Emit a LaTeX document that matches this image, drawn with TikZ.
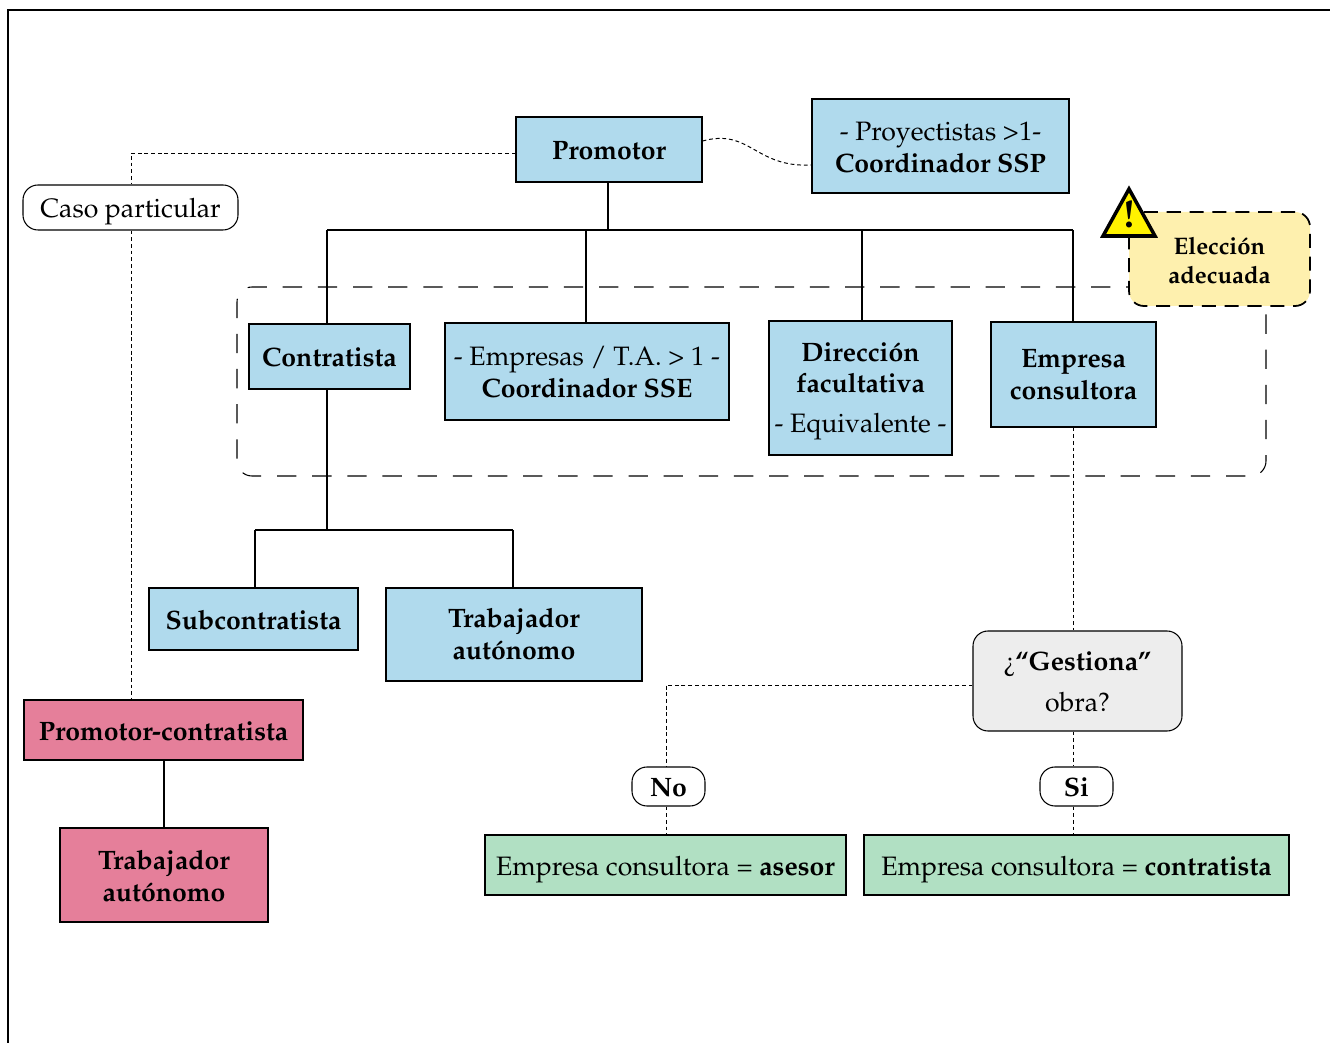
\documentclass[tikz,border=0pt]{standalone}
\usepackage[T1]{fontenc}
\usepackage{mathpazo}
\usepackage{xcolor}
\usepackage{tikz}
\usetikzlibrary{positioning,decorations.pathmorphing,calc,backgrounds}
\definecolor{azul}{HTML}{B0DAED}
\definecolor{rosa}{HTML}{E57F9A}
\definecolor{verde}{HTML}{B1E0C3}
\definecolor{crema}{HTML}{FEF0AE}
\definecolor{gris}{HTML}{EDEDED}
\tikzset{caja/.style = {draw,line width=0.6pt,align=center,inner sep=0pt,font=\fontsize{15.15}{18.2}\selectfont,
                        text height=15.4pt,text depth=4pt},
         varias/.style = {text height=#1},
         varias/.default = 33.6pt,
         agente/.style = {caja,fill=azul},
         promo/.style = {caja,fill=rosa},
         result/.style = {caja,fill=verde},
         etiqueta/.style = {caja,rounded corners=3mm},
         enlace/.style = {line width=0.6pt},
         punteado/.style = {line width=0.55pt,dash pattern=on 2.2pt off 1.6pt}}

\begin{document}
\begin{tikzpicture}
                    \useasboundingbox (0,0) rectangle (26.6,20.86);
                    \draw[line width=1pt] (0.16,0) -- (0.16,20.66) -- (26.6,20.66);
                    \node[draw,dash pattern=on 11pt off 9pt,line width=0.6pt,rounded corners=3mm,minimum width=20.58cm,minimum height=3.78cm] (grupo) at (15.03,13.23) {};
                    \node[agente,minimum width=3.72cm,minimum height=1.3cm] (promotor) at (12.18,17.87) {\textbf{Promotor}};
                    \node[agente,varias,minimum width=5.14cm,minimum height=1.88cm] (proyect) at (18.81,17.94) {- Proyectistas >1-\\\textbf{Coordinador SSP}};
                    \node[etiqueta,minimum width=4.3cm,minimum height=0.9cm] (caso) at (2.61,16.71) {Caso particular};
                    \node[agente,minimum width=3.22cm,minimum height=1.3cm] (contrat) at (6.59,13.73) {\textbf{Contratista}};
                    \node[agente,varias,minimum width=5.68cm,minimum height=1.94cm] (empresas) at (11.74,13.43) {- Empresas / T.A. > 1 -\\\textbf{Coordinador SSE}};
                    \node[agente,varias=55.2pt,minimum width=3.66cm,minimum height=2.68cm] (direccion) at (17.21,13.10) {\textbf{Direcci\'on}\\\textbf{facultativa}\\[1.6mm]- Equivalente -};
                    \node[agente,varias=33pt,minimum width=3.3cm,minimum height=2.1cm] (consultora) at (21.47,13.37) {\textbf{Empresa}\\\textbf{consultora}};
                    \node[agente,minimum width=4.18cm,minimum height=1.24cm] (subcon) at (5.07,8.48) {\textbf{Subcontratista}};
                    \node[agente,varias=33pt,minimum width=5.12cm,minimum height=1.86cm] (autonomo) at (10.28,8.17) {\textbf{Trabajador}\\\textbf{aut\'onomo}};
                    \node[promo,minimum width=5.58cm,minimum height=1.2cm] (promcon) at (3.27,6.26) {\textbf{Promotor-contratista}};
                    \node[promo,varias,minimum width=4.16cm,minimum height=1.88cm] (autonomob) at (3.28,3.36) {\textbf{Trabajador}\\\textbf{aut\'onomo}};
                    \node[etiqueta,varias=38.2pt,fill=gris,minimum width=4.18cm,minimum height=2cm,font=\fontsize{15.15}{22.8}\selectfont] (gestiona) at (21.55,7.24) {\textquestiondown\textbf{``Gestiona''}\\obra?};
                    \node[etiqueta,minimum width=1.46cm,minimum height=0.78cm] (no) at (13.37,5.13) {\textbf{No}};
                    \node[etiqueta,minimum width=1.46cm,minimum height=0.78cm] (si) at (21.53,5.13) {\textbf{Si}};
                    \node[result,minimum width=7.22cm,minimum height=1.2cm] (asesor) at (13.31,3.56) {Empresa consultora = \textbf{asesor}};
                    \node[result,minimum width=8.5cm,minimum height=1.2cm] (contra) at (21.53,3.56) {Empresa consultora = \textbf{contratista}};
                    \node[caja,varias=31.4pt,fill=crema,dash pattern=on 8pt off 5pt,line width=1pt,rounded corners=3mm,minimum width=3.62cm,minimum height=1.88cm,font=\fontsize{13.6}{16.5}\selectfont] (eleccion) at (24.39,15.68) {\textbf{Elecci\'on}\\\textbf{adecuada}};
                    % senal
                    \coordinate (t1) at (22.06,16.14);
                    \coordinate (t2) at (23.1,16.14);
                    \coordinate (t3) at (22.58,17.08);
                    \draw[fill=yellow,line width=2pt,line join=miter] (t1) -- (t2) -- (t3) -- cycle;
                    \node[inner sep=0pt,font=\fontsize{22}{22}\bfseries\selectfont] (aviso) at (22.58,16.58) {!};
                    % lineas
                    \coordinate (busa) at (6.54,16.26);
                    \coordinate (busb) at (11.72,16.26);
                    \coordinate (busc) at (17.24,16.26);
                    \coordinate (busd) at (21.46,16.26);
                    \draw[enlace] (promotor.south -| 12.16,0) -- (12.16,16.26);
                    \draw[enlace] (busa) -- (busd);
                    \foreach \x/\y in {a/contrat,b/empresas,c/direccion,d/consultora}
                        \draw[enlace] (bus\x) -- (\y.north -| bus\x);
                    \coordinate (rama) at (6.54,10.26);
                    \coordinate (ramaa) at (5.10,10.26);
                    \coordinate (ramab) at (10.26,10.26);
                    \draw[enlace] (contrat.south -| rama) -- (rama);
                    \draw[enlace] (ramaa) -- (ramab);
                    \draw[enlace] (ramaa) -- (subcon.north -| ramaa);
                    \draw[enlace] (ramab) -- (autonomo.north -| ramab);
                    \draw[enlace] (promcon.south -| autonomob) -- (autonomob);
                    % punteadas
                    \draw[punteado] (promotor.west |- 0,17.8) -| (caso.north -| 2.62,0);
                    \draw[punteado] (caso.south -| 2.62,0) -- (promcon.north -| 2.62,0);
                    \draw[punteado] (consultora.south -| 21.47,0) -- (gestiona.north -| 21.47,0);
                    \draw[punteado] (gestiona.west |- 0,7.16) -| (no.north -| 13.32,0);
                    \draw[punteado] (no.south -| 13.32,0) -- (asesor.north -| 13.32,0);
                    \draw[punteado] (gestiona.south -| 21.47,0) -- (si.north -| 21.47,0);
                    \draw[punteado] (si.south -| 21.47,0) -- (contra.north -| 21.47,0);
                    \draw[punteado] (promotor.east |- 0,18.04) .. controls (15.0,18.3) and (15.1,17.5) .. (proyect.west |- 0,17.56);
                \end{tikzpicture}
\end{document}
